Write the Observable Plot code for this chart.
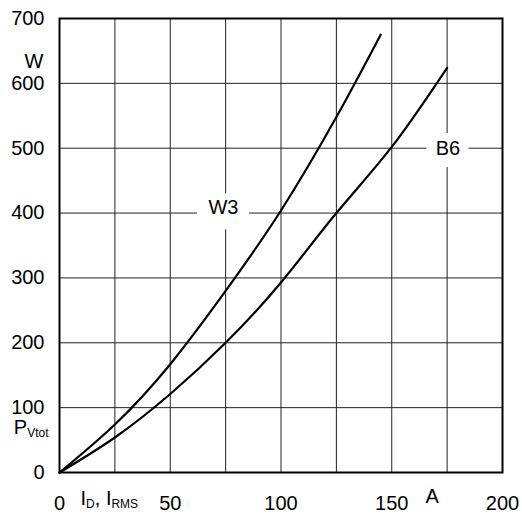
<!DOCTYPE html>
<html><head><meta charset="utf-8">
<script src="https://cdn.jsdelivr.net/npm/d3@7"></script>
<script src="https://cdn.jsdelivr.net/npm/@observablehq/plot@0.6"></script>
<style>html,body{margin:0;padding:0;background:#fff}</style>
</head><body><div id="chart"></div>
<script>
// Data
const w3Current = [0, 25, 50, 75, 100, 125, 145];
const w3Power   = [0, 74, 167, 280, 404, 548, 675];
const b6Current = [0, 25, 50, 75, 100, 125, 150, 175];
const b6Power   = [0, 54, 121, 200, 293, 400, 502, 624];

const xTicks = [0, 50, 100, 150, 200];
const yTicks = [0, 100, 200, 300, 400, 500, 600, 700];
const xGrid = [25, 50, 75, 100, 125, 150, 175];
const yGrid = [100, 200, 300, 400, 500, 600];

const curveNames  = ["W3", "B6"];
const curveLabelX = [74, 175.4];
const curveLabelY = [409, 500];
const curveBoxY   = [402, 496.5];

const series = [
  ...w3Current.map((c, i) => ({name: "W3", I: c, P: w3Power[i]})),
  ...b6Current.map((c, i) => ({name: "B6", I: c, P: b6Power[i]}))
];
const labels = curveNames.map((n, i) => ({name: n, x: curveLabelX[i], y: curveLabelY[i], by: curveBoxY[i]}));

const font = "Liberation Sans, Arial, Helvetica, sans-serif";

const chart = Plot.plot({
  width: 522,
  height: 517,
  marginLeft: 59,
  marginRight: 20,
  marginTop: 18,
  marginBottom: 45,
  style: {fontFamily: font, fontSize: "20px", background: "white", color: "black"},
  x: {domain: [0, 200], label: null},
  y: {domain: [0, 700], label: null},
  marks: [
    Plot.ruleX(xGrid, {stroke: "#222", strokeWidth: 1}),
    Plot.ruleY(yGrid, {stroke: "#222", strokeWidth: 1}),
    Plot.rect([labels[0]], {x1: "x", x2: "x", y1: "by", y2: "by", insetLeft: -26, insetRight: -26, insetTop: -18, insetBottom: -18, fill: "white"}),
    Plot.rect([labels[1]], {x1: "x", x2: "x", y1: "by", y2: "by", insetLeft: -21, insetRight: -21, insetTop: -17, insetBottom: -17, fill: "white"}),
    Plot.line(series, {x: "I", y: "P", z: "name", stroke: "black", strokeWidth: 2.2, curve: "natural"}),
    Plot.text(labels, {x: "x", y: "y", text: "name", fill: "black", fontSize: 20}),
    Plot.frame({stroke: "black", strokeWidth: 2}),
    Plot.axisX(xTicks, {tickSize: 0, tickPadding: 23, fontSize: 20, label: null}),
    Plot.axisY(yTicks, {tickSize: 0, tickPadding: 15, fontSize: 20, label: null}),
    // axis titles
    Plot.text(["W"], {x: 0, y: 634, dx: -16, textAnchor: "end", fontSize: 20}),
    Plot.text(["PVtot"], {x: 0, y: 69, dx: -11, textAnchor: "end", fontSize: 20}),
    Plot.text(["ID, IRMS"], {x: 9.5, y: 0, dy: 26, textAnchor: "start", fontSize: 20}),
    Plot.text(["A"], {x: 168.3, y: 0, dy: 24, fontSize: 20})
  ]
});

// subscripts
d3.select(chart).selectAll("text").each(function() {
  const t = d3.select(this);
  const s = this.textContent;
  if (s === "PVtot") {
    t.text(null);
    t.append("tspan").text("P");
    t.append("tspan").attr("font-size", 12).attr("dy", 3).text("Vtot");
  } else if (s === "ID, IRMS") {
    t.text(null);
    t.append("tspan").text("I");
    t.append("tspan").attr("font-size", 12).attr("dy", 3).text("D");
    t.append("tspan").attr("dy", -3).text(", I");
    t.append("tspan").attr("font-size", 12).attr("dy", 3).text("RMS");
  }
});

document.getElementById("chart").appendChild(chart);
</script>
</body></html>
